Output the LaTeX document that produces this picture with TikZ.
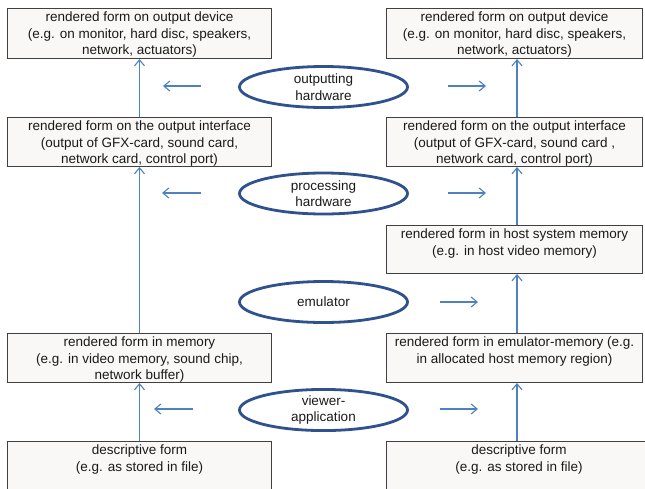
\documentclass[tikz,border=0pt]{standalone}
\usepackage{fontspec}
\setmainfont{Liberation Sans}
\usetikzlibrary{shapes.geometric,arrows.meta}
\definecolor{boxfill}{RGB}{249,248,246}
\definecolor{boxline}{RGB}{64,64,64}
\definecolor{ellline}{RGB}{47,82,143}
\definecolor{arrcol}{RGB}{79,129,189}
\definecolor{txt}{RGB}{26,26,26}
\newcommand{\bt}[3]{\parbox[c][#1pt][t]{#2pt}{\centering\rule{0pt}{13pt}#3\par}}
\begin{document}
\begin{tikzpicture}[x=1pt,y=-1pt,
  font=\fontsize{13.5pt}{16.5pt}\selectfont,
  box/.style={draw=boxline, fill=boxfill, line width=1pt, inner sep=0pt, anchor=north west, text=txt},
  ell/.style={draw=ellline, line width=2.8pt, ellipse, minimum width=168pt, minimum height=41pt, inner sep=0pt, align=center, fill=white, text=txt},
  arr/.style={draw=arrcol, line width=1.1pt, -{Straight Barb[length=6pt,width=10pt]}}]
\useasboundingbox (0,0) rectangle (645,488);
\clip (0,0) rectangle (645,488);
\fill[white] (0,0) rectangle (645,488);
\coordinate (rc) at (517,0);
% boxes
\node[box] (L1) at (7,8) {\bt{50}{264}{rendered form on output device\\(e.g. on monitor, hard disc, speakers,\\network, actuators)}};
\node[box] (R1) at (386,8) {\bt{50}{256}{rendered form on output device\\(e.g. on monitor, hard disc, speakers,\\network, actuators)}};
\node[box] (L2) at (7,117) {\bt{49}{264}{rendered form on the output interface\\(output of GFX-card, sound card,\\network card, control port)}};
\node[box] (R2) at (386,117) {\bt{49}{256}{rendered form on the output interface\\(output of GFX-card, sound card ,\\network card, control port)}};
\node[box] (R3) at (386,225) {\bt{48}{256}{rendered form in host system memory\\(e.g. in host video memory)}};
\node[box] (L4) at (7,333) {\bt{49}{264}{rendered form in memory\\(e.g. in video memory, sound chip,\\network buffer)}};
\node[box] (R4) at (386,333) {\bt{49}{256}{rendered form in emulator-memory (e.g.\\in allocated host memory region)}};
\node[box] (L5) at (7,441) {\bt{60}{264}{descriptive form\\(e.g. as stored in file)}};
\node[box] (R5) at (386,441) {\bt{60}{265}{descriptive form\\(e.g. as stored in file)}};
% ellipses
\node[ell] (E1) at (323.5,87) {outputting\\hardware};
\node[ell] (E2) at (323.5,193.5) {processing\\hardware};
\node[ell] (E3) at (323.5,302) {emulator};
\node[ell] (E4) at (323.5,410) {viewer-\\application};
% vertical arrows
\draw[arr] (L2.north) -- (L1.south);
\draw[arr] (L4.north) -- (L2.south);
\draw[arr] (L5.north) -- (L4.south);
\draw[arr] (R2.north -| rc) -- (R1.south -| rc);
\draw[arr] (R3.north -| rc) -- (R2.south -| rc);
\draw[arr] (R4.north -| rc) -- (R3.south -| rc);
\draw[arr] (R5.north -| rc) -- (R4.south -| rc);
% horizontal arrows
\coordinate (o1a) at (201,86); \coordinate (o1b) at (163,86);
\coordinate (o2a) at (448,86); \coordinate (o2b) at (486,86);
\coordinate (p1a) at (201,193); \coordinate (p1b) at (162,193);
\coordinate (p2a) at (448,193); \coordinate (p2b) at (486,193);
\coordinate (e2a) at (440,302); \coordinate (e2b) at (478,302);
\coordinate (v1a) at (193,409); \coordinate (v1b) at (154,409);
\coordinate (v2a) at (440,409); \coordinate (v2b) at (478,409);
\draw[arr] (o1a) -- (o1b);
\draw[arr] (o2a) -- (o2b);
\draw[arr] (p1a) -- (p1b);
\draw[arr] (p2a) -- (p2b);
\draw[arr] (e2a) -- (e2b);
\draw[arr] (v1a) -- (v1b);
\draw[arr] (v2a) -- (v2b);
\end{tikzpicture}
\end{document}
